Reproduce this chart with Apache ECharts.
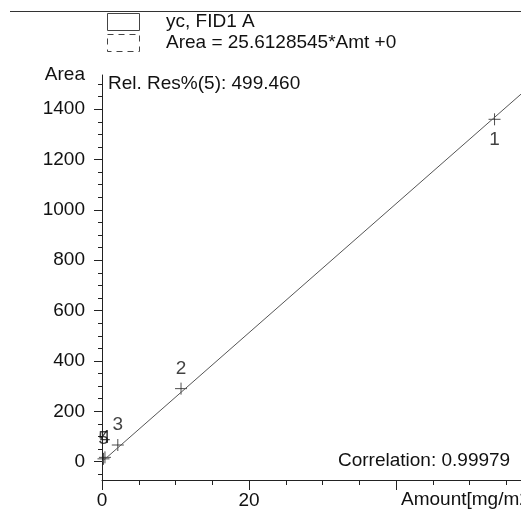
<!DOCTYPE html>
<html>
<head>
<meta charset="utf-8">
<script src="https://cdn.jsdelivr.net/npm/echarts@6.0.0/dist/echarts.min.js"></script>
<style>
  html, body { margin: 0; padding: 0; background: #fff; }
  #chart { width: 521px; height: 511px; }
</style>
</head>
<body>
<div id="chart"></div>
<script>
// calibration levels
const levels = ["1", "2", "3", "4", "5"];
const amounts = [53.4, 10.75, 2.15, 0.4, 0.2];
const areas = [1360, 290, 66, 17, 11];

// fit line Area = 25.6128545*Amt +0
const fitAmt = [0, 57];
const fitArea = [0, 1460];

// ticks
const yMajor = [0, 200, 400, 600, 800, 1000, 1200, 1400];
const yMinor = [-50, 50, 100, 150, 250, 300, 350, 450, 500, 550, 650, 700, 750, 850, 900, 950,
  1050, 1100, 1150, 1250, 1300, 1350, 1450, 1500];
const xMajor = [0, 20, 40];
const xLabels = [0, 20];
const xMinor = [5, 10, 15, 25, 30, 35, 45, 50, 55];

const font = "Liberation Sans, Arial, sans-serif";
const ink = "#111";

const chart = echarts.init(document.getElementById("chart"));

const points = amounts.map((a, i) => ({
  value: [a, areas[i]],
  name: levels[i],
  label: i === 0 ? { position: "bottom" } : {}
}));

chart.setOption({
  animation: false,
  grid: { left: 102, right: 0, top: 75, bottom: 31 },
  xAxis: [
    {
      type: "value", min: 0, max: 57, position: "bottom",
      axisLine: { onZero: false, lineStyle: { color: "#222", width: 1 } },
      axisTick: { customValues: xMajor, length: 10, lineStyle: { color: "#222" } },
      axisLabel: { customValues: xLabels, margin: 11, color: ink, fontSize: 19, fontFamily: font },
      splitLine: { show: false }
    },
    {
      type: "value", min: 0, max: 57, position: "bottom",
      axisLine: { show: false, onZero: false },
      axisTick: { customValues: xMinor, length: 5, lineStyle: { color: "#222" } },
      axisLabel: { show: false },
      splitLine: { show: false }
    }
  ],
  yAxis: [
    {
      type: "value", min: -73, max: 1536, position: "left",
      axisLine: { show: true, onZero: false, lineStyle: { color: "#222", width: 1 } },
      axisTick: { show: true, customValues: yMajor, length: 8, lineStyle: { color: "#222" } },
      axisLabel: {
        customValues: yMajor, margin: 17, color: ink, fontSize: 19, fontFamily: font,
        formatter: v => String(v)
      },
      splitLine: { show: false }
    },
    {
      type: "value", min: -73, max: 1536, position: "left",
      axisLine: { show: false, onZero: false },
      axisTick: { show: true, customValues: yMinor, length: 4, lineStyle: { color: "#222" } },
      axisLabel: { show: false },
      splitLine: { show: false }
    }
  ],
  series: [
    {
      type: "line",
      data: fitAmt.map((a, i) => [a, fitArea[i]]),
      showSymbol: false,
      lineStyle: { color: "#555", width: 1 },
      silent: true
    },
    {
      type: "scatter",
      data: points,
      symbol: "path://M0,6H12M6,0V12",
      symbolSize: 12,
      itemStyle: { color: "transparent", borderColor: "#222", borderWidth: 1 },
      label: {
        show: true, position: "top", distance: 4,
        formatter: p => p.name,
        color: ink, fontSize: 19, fontFamily: font
      }
    }
  ],
  graphic: [
    { type: "line", shape: { x1: 10, y1: 11.5, x2: 521, y2: 11.5 }, style: { stroke: "#333", lineWidth: 1 } },
    // legend boxes
    { type: "rect", shape: { x: 107.5, y: 13.5, width: 32, height: 17 }, style: { fill: "none", stroke: "#444", lineWidth: 1 } },
    { type: "rect", shape: { x: 107.5, y: 34.5, width: 32, height: 17 }, style: { fill: "none", stroke: "#444", lineWidth: 1, lineDash: [6, 5] } },
    { type: "text", x: 166, y: 22, style: { text: "yc, FID1 A", fill: ink, font: "19px " + font, verticalAlign: "middle" } },
    { type: "text", x: 166, y: 43, style: { text: "Area = 25.6128545*Amt +0", fill: ink, font: "19px " + font, verticalAlign: "middle" } },
    // annotations
    { type: "text", x: 85, y: 75, style: { text: "Area", fill: ink, font: "19px " + font, align: "right", verticalAlign: "middle" } },
    { type: "text", x: 108, y: 84, style: { text: "Rel. Res%(5): 499.460", fill: ink, font: "19px " + font, verticalAlign: "middle" } },
    { type: "text", x: 338, y: 461, style: { text: "Correlation: 0.99979", fill: ink, font: "19px " + font, verticalAlign: "middle" } },
    { type: "text", x: 401, y: 500, style: { text: "Amount[mg/m2]", fill: ink, font: "19px " + font, verticalAlign: "middle" } }
  ]
});
</script>
</body>
</html>
